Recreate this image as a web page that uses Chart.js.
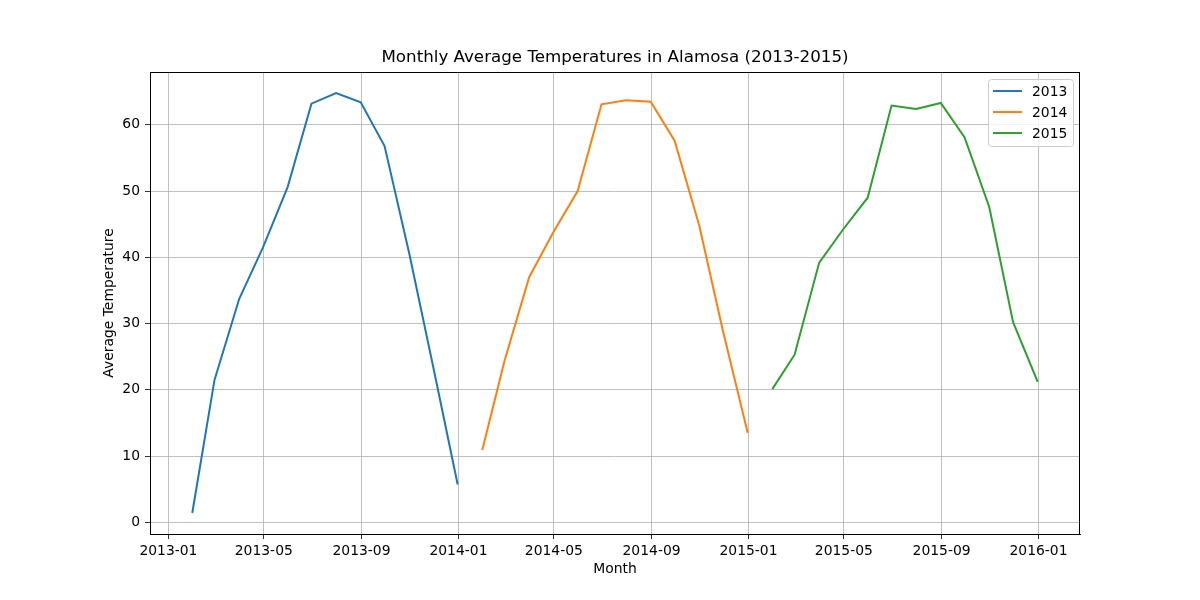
<!DOCTYPE html>
<html>
<head>
<meta charset="utf-8">
<script src="https://cdn.jsdelivr.net/npm/chart.js@4.4.1/dist/chart.umd.min.js"></script>
<style>
  html, body { margin: 0; padding: 0; background: #fff; }
  #wrap { width: 1200px; height: 600px; }
</style>
</head>
<body>
<div id="wrap"><canvas id="c" width="1200" height="600"></canvas></div>
<script>
// ---- data ----
const seriesLabels = ['2013', '2014', '2015'];
const seriesColors = ['#1f77b4', '#ff7f0e', '#2ca02c'];
const dates2013 = ['2013-01-31','2013-02-28','2013-03-31','2013-04-30','2013-05-31','2013-06-30','2013-07-31','2013-08-31','2013-09-30','2013-10-31','2013-11-30','2013-12-31'];
const dates2014 = ['2014-01-31','2014-02-28','2014-03-31','2014-04-30','2014-05-31','2014-06-30','2014-07-31','2014-08-31','2014-09-30','2014-10-31','2014-11-30','2014-12-31'];
const dates2015 = ['2015-01-31','2015-02-28','2015-03-31','2015-04-30','2015-05-31','2015-06-30','2015-07-31','2015-08-31','2015-09-30','2015-10-31','2015-11-30','2015-12-31'];
const temps2013 = [1.4, 21.5, 33.7, 41.5, 50.6, 63.2, 64.8, 63.4, 56.8, 40.6, 23.6, 5.7];
const temps2014 = [10.9, 24.4, 37.0, 43.7, 50.0, 63.1, 63.7, 63.5, 57.6, 44.8, 28.8, 13.5];
const temps2015 = [20.1, 25.3, 39.2, 44.2, 49.0, 62.9, 62.4, 63.3, 58.1, 47.6, 30.2, 21.2];
const xTickLabels = ['2013-01','2013-05','2013-09','2014-01','2014-05','2014-09','2015-01','2015-05','2015-09','2016-01'];
const yTickValues = [0, 10, 20, 30, 40, 50, 60];

// ---- helpers ----
const DAY = 86400000;
function toDays(s) {
  const p = s.split('-').map(Number);
  return Date.UTC(p[0], p[1] - 1, p[2] || 1) / DAY;
}
function daysToLabel(d) {
  const dt = new Date(d * DAY);
  const m = dt.getUTCMonth() + 1;
  return dt.getUTCFullYear() + '-' + (m < 10 ? '0' + m : m);
}
const allDates = [dates2013, dates2014, dates2015];
const allTemps = [temps2013, temps2014, temps2015];
const datasets = allDates.map((ds, i) => ({
  label: seriesLabels[i],
  data: ds.map((d, j) => ({ x: toDays(d), y: allTemps[i][j] })),
  borderColor: seriesColors[i],
  backgroundColor: seriesColors[i],
  borderWidth: 2,
  pointRadius: 0,
  tension: 0,
  fill: false
}));

const xs = [].concat(...allDates).map(toDays);
const ys = [].concat(...allTemps);
const xMinD = Math.min(...xs), xMaxD = Math.max(...xs);
const yMinD = Math.min(...ys), yMaxD = Math.max(...ys);
const xPad = (xMaxD - xMinD) * 0.05, yPad = (yMaxD - yMinD) * 0.05;
const xTickDays = xTickLabels.map(toDays);

const FONT = "'DejaVu Sans', sans-serif";
Chart.defaults.color = '#000';
Chart.defaults.font.family = FONT;

const framePlugin = {
  id: 'frame',
  afterDatasetsDraw(chart) {
    const { ctx, chartArea: a } = chart;
    ctx.save();
    ctx.strokeStyle = '#000';
    ctx.lineWidth = 1;
    ctx.strokeRect(Math.round(a.left) + 0.5, Math.round(a.top) + 0.5, Math.round(a.right - a.left) - 1, Math.round(a.bottom - a.top));
    ctx.restore();
  },
  afterDraw(chart) {
    const { ctx, chartArea: a } = chart;
    const w = 85, rowH = 21, h = 67;
    const x0 = a.right - 7 - w, y0 = a.top + 7;
    ctx.save();
    ctx.beginPath();
    if (ctx.roundRect) ctx.roundRect(x0 + 0.5, y0 + 0.5, w, h, 3); else ctx.rect(x0 + 0.5, y0 + 0.5, w, h);
    ctx.fillStyle = 'rgba(255,255,255,0.8)';
    ctx.fill();
    ctx.strokeStyle = '#cccccc';
    ctx.lineWidth = 1;
    ctx.stroke();
    ctx.font = '13.9px ' + FONT;
    ctx.textBaseline = 'middle';
    ctx.textAlign = 'left';
    chart.data.datasets.forEach((ds, i) => {
      const yy = y0 + 12 + i * rowH;
      ctx.beginPath();
      ctx.moveTo(x0 + 5, yy);
      ctx.lineTo(x0 + 34, yy);
      ctx.strokeStyle = ds.borderColor;
      ctx.lineWidth = 2;
      ctx.stroke();
      ctx.fillStyle = '#000';
      ctx.fillText(ds.label, x0 + 44, yy + 1);
    });
    ctx.restore();
  }
};

new Chart(document.getElementById('c'), {
  type: 'line',
  data: { datasets },
  plugins: [framePlugin],
  options: {
    responsive: false,
    animation: false,
    devicePixelRatio: 1,
    layout: { padding: { left: 0, right: 120, top: 0, bottom: 0 } },
    plugins: {
      legend: { display: false },
      tooltip: { enabled: false },
      title: {
        display: true,
        text: 'Monthly Average Temperatures in Alamosa (2013-2015)',
        fullSize: false,
        color: '#000',
        font: { family: FONT, size: 16.7, weight: 'normal' },
        padding: { top: 48, bottom: 4 }
      }
    },
    scales: {
      x: {
        type: 'linear',
        min: xMinD - xPad,
        max: xMaxD + xPad,
        afterBuildTicks(scale) { scale.ticks = xTickDays.map(v => ({ value: v })); },
        afterFit(scale) { scale.height = 66; },
        ticks: {
          callback: (v) => daysToLabel(v),
          font: { family: FONT, size: 13.9 },
          color: '#000',
          padding: 4,
          maxRotation: 0,
          autoSkip: false
        },
        grid: { color: '#b0b0b0', lineWidth: 0.8, tickLength: 5, tickColor: '#000', drawTicks: true },
        border: { display: true, color: '#000', width: 1 },
        title: {
          display: true,
          text: 'Month',
          color: '#000',
          font: { family: FONT, size: 13.9 },
          padding: { top: 0, bottom: 22.7 }
        }
      },
      y: {
        type: 'linear',
        min: yMinD - yPad,
        max: yMaxD + yPad,
        afterBuildTicks(scale) { scale.ticks = yTickValues.map(v => ({ value: v })); },
        afterFit(scale) { scale.width = 150; },
        ticks: {
          callback: (v) => String(v),
          font: { family: FONT, size: 13.9 },
          color: '#000',
          padding: 5,
          autoSkip: false
        },
        grid: { color: '#b0b0b0', lineWidth: 0.8, tickLength: 5, tickColor: '#000', drawTicks: true },
        border: { display: true, color: '#000', width: 1 },
        title: {
          display: true,
          text: 'Average Temperature',
          color: '#000',
          font: { family: FONT, size: 13.9 },
          padding: { top: 100.7, bottom: 0 }
        }
      }
    }
  }
});
</script>
</body>
</html>
